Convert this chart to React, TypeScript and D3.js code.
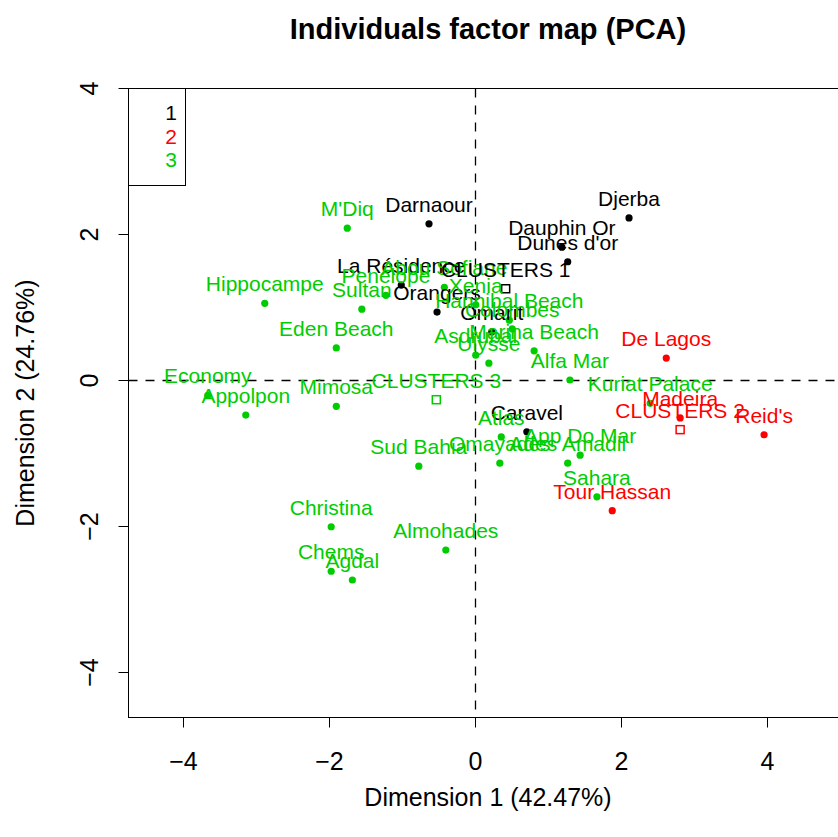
import { useEffect, useRef } from 'react'
import * as d3 from 'd3'

// Individuals (hotels) coordinates on the first two dimensions
const hotelNames = [
  'Djerba', 'Dauphin Or', "Dunes d'or", 'Darnaour', 'La Résidence', 'Orangers', 'Omarit', 'Caravel',
  'De Lagos', 'Madeira', "Reid's", 'Tour Hassan',
  "M'Diq", 'Hippocampe', 'Eden Beach', 'Economy', 'Appolpon', 'Mimosa', 'Sultan', 'Penelope',
  'Abou Sofiane', 'Xenia', 'Hannibal Beach', 'Colombes', 'Marina Beach', 'Asdrubal', 'Ulysse',
  'Alfa Mar', 'Kuriat Palace', 'Atlas', 'Omayades', 'App Do Mar', 'Ades Amadil', 'Sahara',
  'Sud Bahia', 'Christina', 'Chems', 'Agdal', 'Almohades'
]
const dim1 = [
  2.11, 1.19, 1.27, -0.63, -1.01, -0.52, 0.23, 0.71,
  2.62, 2.81, 3.96, 1.88,
  -1.75, -2.88, -1.9, -3.66, -3.14, -1.9, -1.55, -1.22,
  -0.42, 0.01, 0.47, 0.51, 0.81, 0.01, 0.19,
  1.3, 2.4, 0.36, 0.34, 1.44, 1.27, 1.67,
  -0.77, -1.97, -1.97, -1.68, -0.4
]
const dim2 = [
  2.22, 1.82, 1.62, 2.14, 1.3, 0.93, 0.66, -0.71,
  0.3, -0.52, -0.75, -1.79,
  2.08, 1.05, 0.44, -0.21, -0.48, -0.36, 0.97, 1.16,
  1.27, 1.03, 0.82, 0.7, 0.4, 0.34, 0.23,
  0.0, -0.32, -0.78, -1.14, -1.03, -1.14, -1.6,
  -1.18, -2.01, -2.62, -2.74, -2.33
]
const clusterOf = [
  1, 1, 1, 1, 1, 1, 1, 1,
  2, 2, 2, 2,
  3, 3, 3, 3, 3, 3, 3, 3,
  3, 3, 3, 3, 3, 3, 3,
  3, 3, 3, 3, 3, 3, 3,
  3, 3, 3, 3, 3
]

// cluster centres
const centerNames = ['CLUSTERS 1', 'CLUSTERS 2', 'CLUSTERS 3']
const centerDim1 = [0.42, 2.81, -0.53]
const centerDim2 = [1.25, -0.68, -0.27]

const clusterLabels = ['1', '2', '3']
const clusterColors = ['#000000', '#ff0000', '#00cd00']

const xTicks = [-4, -2, 0, 2, 4]
const yTicks = [-4, -2, 0, 2, 4]

const FONT = "'Liberation Sans', Arial, Helvetica, sans-serif"

export default function App() {
  const svgRef = useRef<SVGSVGElement>(null)

  useEffect(() => {
    if (!svgRef.current) return
    const svg = d3.select(svgRef.current)
    svg.selectAll('*').remove()

    const plot = { left: 128.5, top: 88.5, right: 848, bottom: 717.5 }

    const x = d3.scaleLinear().domain([-4, 4]).range([183, 767])
    const y = d3.scaleLinear().domain([-4, 4]).range([672, 88])
    const color = d3.scaleOrdinal<number, string>().domain([1, 2, 3]).range(clusterColors)

    svg.append('rect')
      .attr('width', 838).attr('height', 837).attr('fill', '#fff')

    // title
    svg.append('text')
      .attr('x', 488)
      .attr('y', 39)
      .attr('text-anchor', 'middle')
      .style('font-family', FONT)
      .style('font-size', '29px')
      .style('font-weight', 'bold')
      .text('Individuals factor map (PCA)')

    // axes
    const xAxis = svg.append('g')
      .attr('transform', `translate(0,${plot.bottom})`)
      .call(d3.axisBottom(x).tickValues(xTicks).tickSize(10).tickSizeOuter(0))
    xAxis.select('.domain').attr('d', `M${x(-4)},0H${x(4)}`).attr('stroke', '#000')
    xAxis.selectAll('.tick line').attr('stroke', '#000')
    xAxis.selectAll('text')
      .style('font-family', FONT).style('font-size', '25px').attr('fill', '#000')
      .attr('y', 52).attr('dy', null)

    const yAxis = svg.append('g')
      .attr('transform', `translate(${plot.left},0)`)
      .call(d3.axisLeft(y).tickValues(yTicks).tickSize(10).tickSizeOuter(0))
    yAxis.select('.domain').attr('d', `M0,${y(-4)}V${y(4)}`).attr('stroke', '#000')
    yAxis.selectAll('.tick line').attr('stroke', '#000')
    yAxis.selectAll('text')
      .style('font-family', FONT).style('font-size', '25px').attr('fill', '#000')
      .attr('x', null).attr('dy', null)
      .attr('text-anchor', 'middle')
      .attr('transform', 'translate(-31,0) rotate(-90)')

    // axis titles
    svg.append('text')
      .attr('x', 488)
      .attr('y', 806)
      .attr('text-anchor', 'middle')
      .style('font-family', FONT)
      .style('font-size', '25px')
      .text('Dimension 1 (42.47%)')

    svg.append('text')
      .attr('transform', `translate(34,${(plot.top + plot.bottom) / 2}) rotate(-90)`)
      .attr('text-anchor', 'middle')
      .style('font-family', FONT)
      .style('font-size', '25px')
      .text('Dimension 2 (24.76%)')

    // box
    svg.append('rect')
      .attr('x', plot.left).attr('y', plot.top)
      .attr('width', plot.right - plot.left).attr('height', plot.bottom - plot.top)
      .attr('fill', 'none').attr('stroke', '#000')

    // zero lines
    svg.append('line')
      .attr('x1', plot.left).attr('x2', plot.right)
      .attr('y1', Math.round(y(0)) + 0.5).attr('y2', Math.round(y(0)) + 0.5)
      .attr('stroke', '#000').attr('stroke-width', 1.3).attr('stroke-dasharray', '9,8')
    svg.append('line')
      .attr('x1', Math.round(x(0)) + 0.5).attr('x2', Math.round(x(0)) + 0.5)
      .attr('y1', plot.top).attr('y2', plot.bottom)
      .attr('stroke', '#000').attr('stroke-width', 1.3).attr('stroke-dasharray', '9,8')

    const pts = hotelNames.map((name, i) => ({ name, d1: dim1[i], d2: dim2[i], cl: clusterOf[i] }))
    const centers = centerNames.map((name, i) => ({ name, d1: centerDim1[i], d2: centerDim2[i], cl: i + 1 }))

    // points
    svg.selectAll('.pt')
      .data(pts)
      .enter().append('circle')
      .attr('class', 'pt')
      .attr('cx', d => x(d.d1))
      .attr('cy', d => y(d.d2))
      .attr('r', 3.6)
      .attr('fill', d => color(d.cl))

    // cluster centres (open squares)
    svg.selectAll('.ctr')
      .data(centers)
      .enter().append('rect')
      .attr('class', 'ctr')
      .attr('x', d => x(d.d1) - 4)
      .attr('y', d => y(d.d2) - 4)
      .attr('width', 8).attr('height', 8)
      .attr('fill', 'none')
      .attr('stroke', d => color(d.cl))
      .attr('stroke-width', 1.5)

    // labels above the points
    svg.selectAll('.lbl')
      .data([...pts, ...centers])
      .enter().append('text')
      .attr('class', 'lbl')
      .attr('x', d => x(d.d1))
      .attr('y', d => y(d.d2) - 12)
      .attr('text-anchor', 'middle')
      .style('font-family', FONT)
      .style('font-size', '21px')
      .attr('fill', d => color(d.cl))
      .text(d => d.name)

    // legend
    svg.append('rect')
      .attr('x', plot.left).attr('y', plot.top)
      .attr('width', 57).attr('height', 97)
      .attr('fill', '#fff').attr('stroke', '#000')
    svg.selectAll('.leg')
      .data(clusterLabels)
      .enter().append('text')
      .attr('class', 'leg')
      .attr('x', 177)
      .attr('y', (d, i) => 120 + i * 23.5)
      .attr('text-anchor', 'end')
      .style('font-family', FONT)
      .style('font-size', '21px')
      .attr('fill', (d, i) => clusterColors[i])
      .text(d => d)
  }, [])

  return (
    <svg
      ref={svgRef}
      width={838}
      height={837}
      style={{ position: 'absolute', left: 0, top: 0, display: 'block' }}
    />
  )
}
